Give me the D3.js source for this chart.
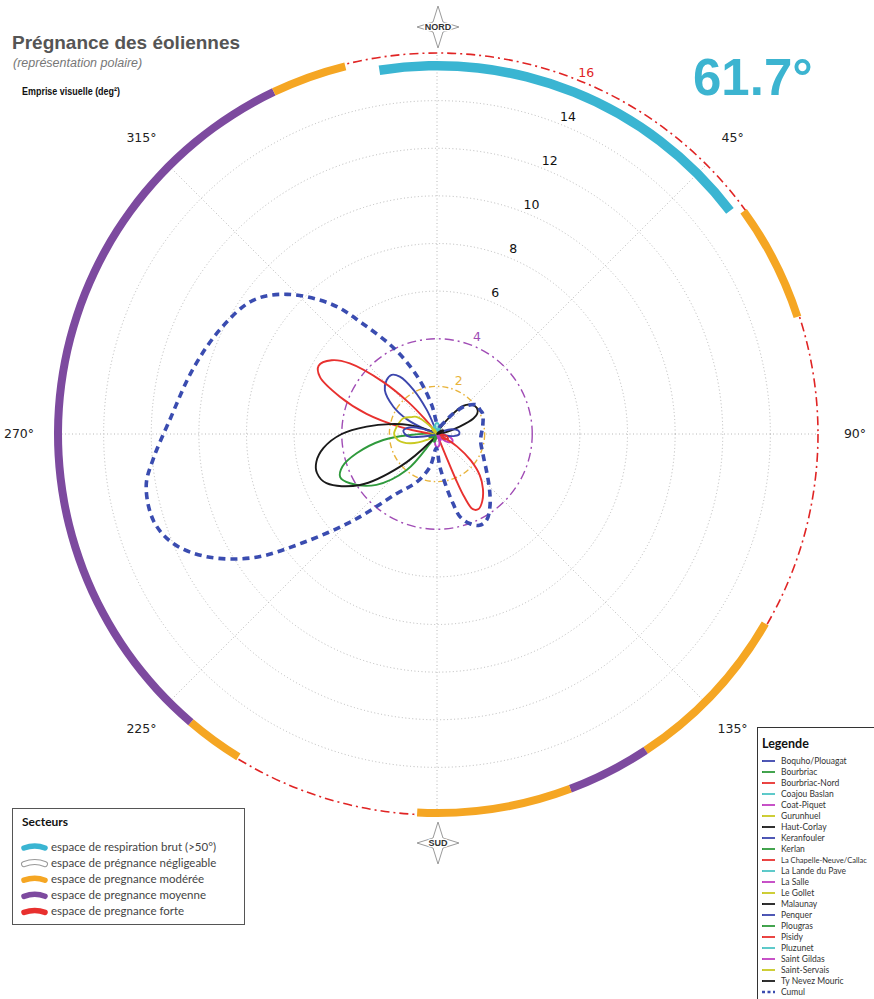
<!DOCTYPE html>
<html><head><meta charset="utf-8">
<script src="https://cdn.jsdelivr.net/npm/d3@7"></script>
<style>body{margin:0;background:#fff} svg{display:block}</style>
</head><body><svg id="c" width="874" height="999"></svg>
<script>
// ---------------- DATA ----------------
const sites = ["Boquho/Plouagat","Bourbriac","Bourbriac-Nord","Coajou Baslan","Coat-Piquet","Gurunhuel","Haut-Corlay","Keranfouler","Kerlan","La Chapelle-Neuve/Callac","La Lande du Pave","La Salle","Le Gollet","Malaunay","Penquer","Plougras","Pisidy","Pluzunet","Saint Gildas","Saint-Servais","Ty Nevez Mouric"];

// outline of each lobe as [bearing (deg), emprise visuelle (deg²)]
const boquho        = [[315,0],[292,0.6],[296,1.4],[302,2.16],[310,2.86],[317,3.1],[322.5,3.13],[327,2.87],[332,2.1],[337,1.1],[340,0.4]];
const bourbriac     = [[240,0],[216,0.5],[220,1.98],[230,3.32],[240.5,4.2],[246,4.45],[251,4.2],[256.5,3.47],[263.6,2.27],[268,1.13],[272,0.4]];
const bourbriacNord = [[300,0],[276,0.5],[281,1.58],[286,3.08],[291,4.37],[296,5.47],[300,5.74],[305,5.4],[309,4.71],[314,3.15],[318,1.8],[321,0.8],[323,0.3]];
const coajou        = [[0,0],[345,0.25],[355,0.45],[365,0.45],[375,0.25]];
const coatPiquet    = [[115,0],[95,0.3],[105,0.6],[115,0.72],[125,0.6],[135,0.25]];
const gurunhuel     = [[275,0],[240,0.5],[251,1.2],[261,1.65],[270,1.8],[280,1.72],[295,1.56],[303,1.3],[310,1.12],[318,0.5]];
const hautCorlay    = [[55,0],[30,0.3],[37,0.91],[43,1.61],[50,1.9],[57,2.0],[63,1.9],[67,1.66],[72,1.0],[78,0.4]];
const keranfouler   = [[85,0],[65,0.3],[72,0.65],[81,0.91],[90,0.94],[96,0.76],[102,0.3]];
const kerlan        = [[250,0],[235,0.2],[250,0.35],[265,0.2]];
const laChapelle    = [[140,0],[117,0.4],[122,1.0],[128,1.8],[134,2.5],[140,3.0],[146,3.4],[151,3.6],[154.5,3.5],[156.5,2.9],[157.5,2.0],[158,1.0],[158.5,0.4]];
const laLande       = [[20,0],[10,0.2],[20,0.35],[30,0.2]];
const laSalle       = [[178,0],[160,0.25],[170,0.5],[180,0.55],[190,0.45],[200,0.2]];
const leGollet      = [[290,0],[280,0.2],[290,0.4],[300,0.2]];
const malaunay      = [[255,0],[220,0.4],[228.5,2.07],[236.5,3.88],[246,5.08],[252,5.3],[257,5.2],[263,4.8],[270,4.0],[276,2.97],[282,2.0],[288,1.2],[295,0.3]];
const penquer       = [[275,0],[258,0.4],[264,1.14],[270,1.35],[276,1.42],[281,1.3],[286,1.03],[292,0.4]];
const plougras      = [[200,0],[190,0.2],[200,0.35],[210,0.2]];
const pisidy        = [[110,0],[95,0.2],[105,0.45],[115,0.5],[125,0.35],[135,0.1]];
const pluzunet      = [[340,0],[330,0.2],[340,0.35],[350,0.2]];
const saintGildas   = [[150,0],[140,0.2],[150,0.3],[160,0.2]];
const saintServais  = [[320,0],[310,0.2],[320,0.3],[330,0.2]];
const tyNevez       = [[60,0],[50,0.2],[60,0.3],[70,0.2]];
const lobes = [boquho,bourbriac,bourbriacNord,coajou,coatPiquet,gurunhuel,hautCorlay,keranfouler,kerlan,laChapelle,laLande,laSalle,leGollet,malaunay,penquer,plougras,pisidy,pluzunet,saintGildas,saintServais,tyNevez];

const cumulAngles = [0,20,30,37,45,54,61,66,80,98,116,128,137,144,150,155,160,164.5,167,170,175,183,192,203,214,224,231,236,242,247.5,253,260,265,273,285,296,306,313,321,326,334,342,350,355];
const cumulValues = [0.4,0.35,0.5,0.95,1.65,2.07,2.07,2.1,1.95,1.85,2.17,2.66,3.24,3.78,4.17,4.23,4.0,3.6,3.0,2.25,1.38,0.6,1.4,2.2,3.01,5.04,7.26,9.28,10.97,12.0,12.45,12.4,11.96,11.24,10.6,10.1,9.55,8.6,7.0,5.6,3.9,2.4,1.2,0.6];

const ringTicks = [2,4,6,8,10,12,14,16];
const thresholdValues = [2,4,16];
const angleTicks = [45,90,135,225,270,315];
const angleLabels = ["45°","90°","135°","225°","270°","315°"];
const spokeAngles = [0,45,90,135,180,225,270,315];

// sectors on the outer ring (bearing start, bearing end, class index)
const sectorStart = [54,120,146.6,159.4,211.6,220.5,334.5];
const sectorEnd   = [72,146.6,159.4,183,220.5,334.5,346];
const sectorClass = [2,2,3,2,2,3,2];
const breathingStart = -9.0, breathingEnd = 52.7; // espace de respiration brut
const breathingLabel = "61.7°";

const sectorLabels = ["espace de respiration brut (>50°)","espace de prégnance négligeable","espace de pregnance modérée","espace de pregnance moyenne","espace de pregnance forte"];

// ---------------- STYLE ----------------
const cycle = ["#3c46ad","#2f9a3c","#e8312f","#4dc4c4","#c13fc1","#c9c922","#1a1a1a"];
const cumulColor = "#3a4cb0";
const sectorColors = ["#3ab5d2","#ffffff","#f5a623","#7d4a9f","#e8302e"];
const thresholdColors = {2:"#e8b33a",4:"#a04cb5",16:"#e02424"};

// ---------------- DRAW ----------------
const svg = d3.select("#c");
svg.append("rect").attr("width",874).attr("height",999).attr("fill","#fff");
const cx = 437, cy = 434;
const r = d3.scaleLinear().domain([0,16]).range([0,381]);
const rad = d => d*Math.PI/180;
const g = svg.append("g").attr("transform",`translate(${cx},${cy})`);

// grid rings
g.selectAll("circle.grid").data(ringTicks.filter(v=>!thresholdValues.includes(v))).join("circle")
  .attr("r",d=>r(d)).attr("fill","none").attr("stroke","#b8b8b8").attr("stroke-width",1).attr("stroke-dasharray","1,2.5");
// spokes
const radial = d3.lineRadial().angle(d=>rad(d[0])).radius(d=>r(d[1]));
g.selectAll("path.spoke").data(spokeAngles).join("path")
  .attr("d",a=>radial([[a,0],[a,16]])).attr("stroke","#b8b8b8").attr("stroke-width",1).attr("stroke-dasharray","1,2.5").attr("fill","none");

// threshold rings
g.selectAll("circle.th").data(thresholdValues).join("circle")
  .attr("r",d=>r(d)).attr("fill","none").attr("stroke",d=>thresholdColors[d])
  .attr("stroke-width",d=>d===16?1.6:1.4).attr("stroke-dasharray",d=>d===2?"6,3,1.5,3":"9,4,2,4");

// ring labels at 22.5°
g.selectAll("text.rl").data(ringTicks).join("text")
  .attr("x",d=>Math.sin(rad(22.5))*(r(d)+9)).attr("y",d=>-Math.cos(rad(22.5))*(r(d)+9))
  .attr("text-anchor","middle").attr("dominant-baseline","middle")
  .attr("font-family","DejaVu Sans, sans-serif").attr("font-size",12.5)
  .attr("fill",d=>thresholdColors[d]||"#111").text(d=>d);

// angle labels
g.selectAll("text.al").data(angleTicks).join("text")
  .attr("x",d=>Math.sin(rad(d))*418).attr("y",d=>-Math.cos(rad(d))*418)
  .attr("text-anchor","middle").attr("dominant-baseline","middle")
  .attr("font-family","DejaVu Sans, sans-serif").attr("font-size",12.5).attr("fill","#222")
  .text((d,i)=>angleLabels[i]);

// sector arcs
const arcS = d3.arc().innerRadius(375).outerRadius(383);
g.selectAll("path.sec").data(sectorStart.map((s,i)=>({s,e:sectorEnd[i],c:sectorClass[i]}))).join("path")
  .attr("d",d=>arcS({startAngle:rad(d.s),endAngle:rad(d.e)})).attr("fill",d=>sectorColors[d.c]);
// breathing space arc
const arcB = d3.arc().innerRadius(363.5).outerRadius(373);
g.append("path").attr("d",arcB({startAngle:rad(breathingStart),endAngle:rad(breathingEnd)})).attr("fill",sectorColors[0]);

// lobes
const lobeLine = d3.lineRadial().angle(d=>rad(d[0])).radius(d=>r(d[1])).curve(d3.curveCatmullRomClosed.alpha(0.5));
g.selectAll("path.lobe").data(lobes).join("path")
  .attr("d",d=>lobeLine(d)).attr("fill","none").attr("stroke",(d,i)=>cycle[i%7]).attr("stroke-width",1.9);

// cumul
const cumul = cumulAngles.map((a,i)=>[a,cumulValues[i]]);
g.append("path").attr("d",lobeLine(cumul)).attr("fill","none").attr("stroke",cumulColor)
  .attr("stroke-width",3.6).attr("stroke-dasharray","7,5");

// compass stars
function star(x,y,label){
  const s = svg.append("g").attr("transform",`translate(${x},${y})`);
  s.append("path").attr("d","M0,-21 L5,-5 L21,0 L5,5 L0,21 L-5,5 L-21,0 L-5,-5 Z")
    .attr("fill","#fff").attr("stroke","#9a9a9a").attr("stroke-width",1);
  s.append("text").attr("text-anchor","middle").attr("dominant-baseline","middle").attr("y",0.5)
    .attr("font-family","Liberation Sans, Arial, sans-serif").attr("font-weight","bold").attr("font-size",9)
    .attr("fill","#333").attr("stroke","#fff").attr("stroke-width",2.5).attr("paint-order","stroke").text(label);
}
star(438,27,"NORD");
star(438,843,"SUD");

// titles
svg.append("text").attr("x",12).attr("y",49).attr("font-family","Liberation Sans, Arial, sans-serif")
  .attr("font-weight","bold").attr("font-size",19).attr("fill","#555").text("Prégnance des éoliennes");
svg.append("text").attr("x",13).attr("y",67).attr("font-family","Liberation Sans, Arial, sans-serif")
  .attr("font-style","italic").attr("font-size",12.5).attr("fill","#777").text("(représentation polaire)");
svg.append("text").attr("x",22).attr("y",95).attr("font-family","Liberation Sans Narrow, Liberation Sans, Arial, sans-serif")
  .attr("font-size",11).attr("font-weight","bold").attr("fill","#111").attr("textLength",98).attr("lengthAdjust","spacingAndGlyphs").text("Emprise visuelle (deg²)");
svg.append("text").attr("x",693).attr("y",95).attr("font-family","Liberation Sans, Arial, sans-serif")
  .attr("font-weight","bold").attr("font-size",51).attr("fill","#3cb4d0").text(breathingLabel);

// Secteurs legend
const sg = svg.append("g");
sg.append("rect").attr("x",12.5).attr("y",808.5).attr("width",232).attr("height",116).attr("fill","#fff").attr("stroke","#555");
sg.append("text").attr("x",22).attr("y",826).attr("font-family","Lato, Open Sans, sans-serif").attr("font-weight","bold")
  .attr("font-size",12).attr("fill","#111").text("Secteurs");
sectorLabels.forEach((t,i)=>{
  const y = 846.5 + i*16.1;
  const p = `M24,${y+1.5} Q35,${y-2.5} 45,${y+1.5}`;
  if(i===1){
    sg.append("path").attr("d",p).attr("fill","none").attr("stroke","#999").attr("stroke-width",6).attr("stroke-linecap","round");
    sg.append("path").attr("d",p).attr("fill","none").attr("stroke","#fff").attr("stroke-width",4).attr("stroke-linecap","round");
  } else {
    sg.append("path").attr("d",p).attr("fill","none").attr("stroke",sectorColors[i]).attr("stroke-width",5.5).attr("stroke-linecap","round");
  }
  sg.append("text").attr("x",51).attr("y",y+4).attr("font-family","Lato, Open Sans, sans-serif")
    .attr("font-size",11.5).attr("fill","#444").text(t);
});

// Legende
const lg = svg.append("g");
lg.append("rect").attr("x",757.5).attr("y",727.5).attr("width",130).attr("height",280).attr("fill","#fff").attr("stroke","#333");
lg.append("text").attr("x",762).attr("y",748).attr("font-family","Lato, Open Sans, sans-serif").attr("font-weight","bold")
  .attr("font-size",12.5).attr("fill","#111").text("Legende");
const legItems = sites.map((s,i)=>({name:s,color:cycle[i%7],dash:null})).concat([{name:"Cumul",color:cumulColor,dash:"3,2.5"}]);
legItems.forEach((d,i)=>{
  const y = 761 + i*11.0;
  lg.append("line").attr("x1",762).attr("x2",775).attr("y1",y).attr("y2",y).attr("stroke",d.color)
    .attr("stroke-width",d.dash?2.5:1.8).attr("stroke-dasharray",d.dash);
  const t = lg.append("text").attr("x",781).attr("y",y+3).attr("font-family","Lato, Open Sans, sans-serif")
    .attr("font-size",8.5).attr("fill","#333").text(d.name);
  const w = t.node().getComputedTextLength();
  if (w > 86) t.attr("font-size", (8.5*86/w).toFixed(2));
});
</script></body></html>
